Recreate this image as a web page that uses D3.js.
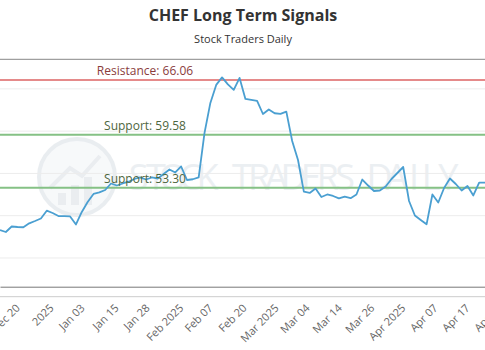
<!DOCTYPE html>
<html>
<head>
<meta charset="utf-8">
<script src="https://cdn.jsdelivr.net/npm/d3@7/dist/d3.min.js"></script>
<style>
  body { margin: 0; background: #fff; }
  svg { display: block; font-family: "Open Sans", sans-serif; }
</style>
</head>
<body>
<div id="chart-area"></div>
<script>
// closing prices, one per trading day (left to right)
var prices = [48.31, 48.07, 48.72, 48.66, 48.63, 49.10, 49.37, 49.67, 50.59, 50.32,
  49.96, 49.96, 49.91, 48.96, 50.44, 51.62, 52.57, 52.75, 53.04, 53.81,
  53.57, 53.81, 54.02, 54.34, 54.52, 54.28, 54.52, 54.40, 54.93, 55.47,
  55.11, 55.82, 54.22, 54.31, 54.54, 59.79, 63.34, 65.47, 66.36, 65.53,
  64.88, 66.30, 63.81, 63.69, 63.57, 62.03, 62.57, 62.12, 62.04, 62.31,
  58.84, 56.59, 52.84, 52.69, 53.22, 52.21, 52.51, 52.33, 52.04, 52.25,
  52.07, 52.51, 54.28, 53.57, 52.92, 52.98, 53.46, 54.34, 55.05, 55.76,
  51.74, 50.02, 49.49, 48.98, 52.51, 51.56, 53.28, 54.40, 53.75, 52.98,
  53.51, 52.39, 53.91, 53.91];

// x-axis labels and where they sit (in trading-day index units)
var tickLabels = ["Dec 20", "2025", "Jan 03", "Jan 15", "Jan 28", "Feb 2025", "Feb 07", "Feb 20",
  "Mar 2025", "Mar 04", "Mar 14", "Mar 26", "Apr 2025", "Apr 07", "Apr 17", "Apr 29"];
var tickIndex = [3.1, 8.9, 14.2, 20.0, 25.3, 31.1, 36.1, 41.9, 47.4, 52.7, 58.2, 63.8, 69.1, 74.6, 80.1, 85.6];

var gridValues = [45, 50, 55, 60, 65];

var levelNames = ["Resistance", "Support", "Support"];
var levelValues = [66.06, 59.58, 53.30];

var width = 485, height = 350;
var plotTop = 59.3, plotBottom = 286.7;

var svg = d3.select("#chart-area")
  .append("svg")
  .attr("width", width)
  .attr("height", height);

var x = d3.scaleLinear()
  .domain([0, prices.length - 1])
  .range([0, width]);

var y = d3.scaleLinear()
  .domain([41.6, 68.5])
  .range([plotBottom, plotTop]);

// title
svg.append("text")
  .attr("x", 243)
  .attr("y", 21)
  .attr("text-anchor", "middle")
  .attr("font-size", "16px")
  .attr("font-weight", "bold")
  .attr("fill", "#333")
  .text("CHEF Long Term Signals");

svg.append("text")
  .attr("x", 243)
  .attr("y", 43)
  .attr("text-anchor", "middle")
  .attr("font-size", "11px")
  .attr("fill", "#333")
  .text("Stock Traders Daily");

// watermark
var wm = svg.append("g").attr("opacity", 0.5);
wm.append("circle")
  .attr("cx", 77)
  .attr("cy", 177)
  .attr("r", 38)
  .attr("fill", "#f1f4f7")
  .attr("stroke", "#d5dce3")
  .attr("stroke-width", 4);
wm.selectAll("rect.wm")
  .data([12, 20, 28])
  .enter().append("rect")
  .attr("class", "wm")
  .attr("x", function (d, i) { return 58 + i * 13; })
  .attr("y", function (d) { return 205 - d; })
  .attr("width", 8)
  .attr("height", function (d) { return d; })
  .attr("fill", "#d6dce2");
wm.append("path")
  .attr("d", "M50,188 L70,168 L82,176 L100,156")
  .attr("fill", "none")
  .attr("stroke", "#d6dce2")
  .attr("stroke-width", 4);

var wmChars = "STOCK TRADERS DAILY".split("");
var wmX = d3.scaleBand()
  .domain(d3.range(wmChars.length))
  .range([130, 457]);
wm.selectAll("text.wm")
  .data(wmChars)
  .enter().append("text")
  .attr("class", "wm")
  .attr("x", function (d, i) { return wmX(i) + wmX.bandwidth() / 2; })
  .attr("y", 190)
  .attr("text-anchor", "middle")
  .attr("font-size", "36px")
  .attr("fill", "#d9e0e7")
  .text(function (d) { return d; });

// separator under the subtitle
svg.append("line")
  .attr("x1", 0).attr("x2", width)
  .attr("y1", plotTop).attr("y2", plotTop)
  .attr("stroke", "#888")
  .attr("stroke-width", 1);

// grid
svg.selectAll("line.grid")
  .data(gridValues)
  .enter().append("line")
  .attr("class", "grid")
  .attr("x1", 0).attr("x2", width)
  .attr("y1", function (d) { return y(d); })
  .attr("y2", function (d) { return y(d); })
  .attr("stroke", "#ececec")
  .attr("stroke-width", 1);

// support / resistance lines
svg.selectAll("line.level")
  .data(levelValues)
  .enter().append("line")
  .attr("class", "level")
  .attr("x1", 0).attr("x2", width)
  .attr("y1", function (d) { return y(d); })
  .attr("y2", function (d) { return y(d); })
  .attr("stroke", function (d, i) { return i == 0 ? "#e58a8a" : "#85c185"; })
  .attr("stroke-width", 2);

// price line
var line = d3.line()
  .x(function (d, i) { return x(i); })
  .y(function (d) { return y(d); });

svg.append("path")
  .datum(prices)
  .attr("d", line)
  .attr("fill", "none")
  .attr("stroke", "#4a9fd1")
  .attr("stroke-width", 1.8)
  .attr("stroke-linejoin", "round");

svg.selectAll("text.level")
  .data(levelValues)
  .enter().append("text")
  .attr("class", "level")
  .attr("x", 145)
  .attr("y", function (d) { return y(d) - 4.5; })
  .attr("text-anchor", "middle")
  .attr("font-size", "12px")
  .attr("fill", function (d, i) { return i == 0 ? "#8a3c3c" : "#4e6640"; })
  .text(function (d, i) { return levelNames[i] + ": " + d.toFixed(2); });

// x axis
var xAxisCall = d3.axisBottom(x)
  .tickValues(tickIndex)
  .tickSize(0)
  .tickFormat(function (d, i) { return tickLabels[i]; });

var xAxis = svg.append("g")
  .attr("class", "x-axis")
  .attr("transform", "translate(0," + plotBottom + ")")
  .call(xAxisCall);

xAxis.select(".domain")
  .attr("stroke", "#777");

xAxis.selectAll("text")
  .attr("font-family", "Open Sans, sans-serif")
  .attr("font-size", "11px")
  .attr("fill", "#666")
  .attr("text-anchor", "end")
  .attr("x", 0)
  .attr("y", 0)
  .attr("dy", 0)
  .attr("transform", "translate(2,22) rotate(-45)");

svg.append("line")
  .attr("x1", 0).attr("x2", width)
  .attr("y1", 296.7).attr("y2", 296.7)
  .attr("stroke", "#ccc")
  .attr("stroke-width", 1);
</script>
</body>
</html>
